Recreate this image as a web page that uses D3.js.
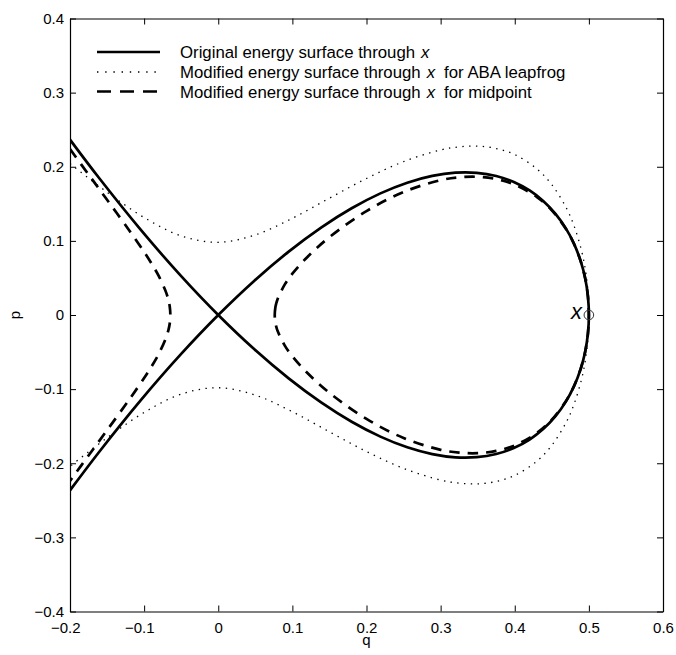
<!DOCTYPE html>
<html>
<head>
<meta charset="utf-8">
<script src="https://cdn.jsdelivr.net/npm/d3@7"></script>
<style>
  html, body { margin: 0; padding: 0; background: #fff; }
  svg { display: block; font-family: "Liberation Sans", Arial, Helvetica, sans-serif; }
</style>
</head>
<body>
<svg id="chart" width="676" height="655"></svg>
<script>
// ---------- data ----------
const xTicks = [-0.2, -0.1, 0, 0.1, 0.2, 0.3, 0.4, 0.5, 0.6];
const xTickLabels = ["\u22120.2", "\u22120.1", "0", "0.1", "0.2", "0.3", "0.4", "0.5", "0.6"];
const yTicks = [-0.4, -0.3, -0.2, -0.1, 0, 0.1, 0.2, 0.3, 0.4];
const yTickLabels = ["\u22120.4", "\u22120.3", "\u22120.2", "\u22120.1", "0", "0.1", "0.2", "0.3", "0.4"];

// Original energy surface through x (solid), traced from lower-left, round the loop, to upper-left
const originalQ = [-0.2, -0.16125, -0.105, -0.05125, 0, 0.04875, 0.095, 0.13875, 0.18, 0.21875, 0.255, 0.28875, 0.32, 0.34875, 0.375, 0.39875, 0.42, 0.43875, 0.455, 0.46875, 0.48, 0.48875, 0.495, 0.49875, 0.5,
                   0.49875, 0.495, 0.48875, 0.48, 0.46875, 0.455, 0.43875, 0.42, 0.39875, 0.375, 0.34875, 0.32, 0.28875, 0.255, 0.21875, 0.18, 0.13875, 0.095, 0.04875, 0, -0.05125, -0.105, -0.16125, -0.2];
const originalP = [-0.2366, -0.18544, -0.1155, -0.05381, 0, 0.04631, 0.0855, 0.11794, 0.144, 0.16406, 0.1785, 0.18769, 0.192, 0.19181, 0.1875, 0.17944, 0.168, 0.15356, 0.1365, 0.11719, 0.096, 0.07331, 0.0495, 0.02494, 0,
                   -0.02494, -0.0495, -0.07331, -0.096, -0.11719, -0.1365, -0.15356, -0.168, -0.17944, -0.1875, -0.19181, -0.192, -0.18769, -0.1785, -0.16406, -0.144, -0.11794, -0.0855, -0.04631, 0, 0.05381, 0.1155, 0.18544, 0.2366];

// Modified energy surface for ABA leapfrog (dotted): upper branch, then lower branch
const abaQ = [-0.2, -0.15, -0.1, -0.05, 0, 0.05, 0.1, 0.15, 0.2, 0.25, 0.3, 0.325, 0.35, 0.375, 0.4, 0.43, 0.45, 0.47, 0.48, 0.49, 0.495, 0.4985, 0.5,
              0.4985, 0.495, 0.49, 0.48, 0.47, 0.45, 0.43, 0.4, 0.375, 0.35, 0.325, 0.3, 0.25, 0.2, 0.15, 0.1, 0.05, 0, -0.05, -0.1, -0.15, -0.2];
const abaP = [0.2042, 0.1657, 0.1315, 0.1067, 0.0981, 0.1081, 0.1305, 0.1576, 0.1842, 0.2069, 0.2227, 0.2268, 0.2278, 0.2246, 0.2164, 0.1970, 0.1758, 0.1436, 0.1203, 0.0872, 0.0625, 0.0345, 0,
              -0.0345, -0.0625, -0.0872, -0.1203, -0.1436, -0.1758, -0.1970, -0.2164, -0.2246, -0.2278, -0.2268, -0.2227, -0.2069, -0.1842, -0.1576, -0.1305, -0.1081, -0.0981, -0.1067, -0.1315, -0.1657, -0.2042];

// Modified energy surface for midpoint (dashed): left branch
const midLeftQ = [-0.2, -0.175, -0.15, -0.12, -0.1, -0.09, -0.08, -0.07, -0.067, -0.0655, -0.0646, -0.0655, -0.067, -0.07, -0.08, -0.09, -0.1, -0.12, -0.15, -0.175, -0.2];
const midLeftP = [0.2239, 0.1896, 0.1554, 0.1140, 0.0851, 0.0694, 0.0520, 0.0295, 0.0194, 0.0118, 0, -0.0118, -0.0194, -0.0295, -0.0520, -0.0694, -0.0851, -0.1140, -0.1554, -0.1896, -0.2239];
// ... and right closed loop
const midLoopQ = [0.0762, 0.077, 0.078, 0.08, 0.09, 0.1, 0.12, 0.15, 0.2, 0.25, 0.3, 0.325, 0.35, 0.375, 0.4, 0.43, 0.45, 0.47, 0.48, 0.49, 0.495, 0.4985, 0.5,
                  0.4985, 0.495, 0.49, 0.48, 0.47, 0.45, 0.43, 0.4, 0.375, 0.35, 0.325, 0.3, 0.25, 0.2, 0.15, 0.12, 0.1, 0.09, 0.08, 0.078, 0.077];
const midLoopP = [0, 0.0098, 0.0147, 0.0214, 0.0416, 0.0557, 0.0780, 0.1050, 0.1402, 0.1659, 0.1819, 0.1857, 0.1864, 0.1834, 0.1759, 0.1591, 0.1412, 0.1146, 0.0957, 0.0692, 0.0495, 0.0273, 0,
                  -0.0273, -0.0495, -0.0692, -0.0957, -0.1146, -0.1412, -0.1591, -0.1759, -0.1834, -0.1864, -0.1857, -0.1819, -0.1659, -0.1402, -0.1050, -0.0780, -0.0557, -0.0416, -0.0214, -0.0147, -0.0098];

const pointX = [0.5];
const pointP = [0];

const legendLabels = [
  ["Original energy surface through", "x", ""],
  ["Modified energy surface through", "x", "for ABA leapfrog"],
  ["Modified energy surface through", "x", "for midpoint"]
];

// ---------- chart ----------
const svg = d3.select("#chart");
const plotLeft = 70, plotRight = 663, plotTop = 18.5, plotBottom = 611.5;
const x = d3.scaleLinear().domain([-0.2, 0.6]).range([plotLeft, plotRight]);
const y = d3.scaleLinear().domain([-0.4, 0.4]).range([plotBottom, plotTop]);

svg.append("defs").append("clipPath").attr("id", "clip")
  .append("rect").attr("x", plotLeft).attr("y", plotTop).attr("width", plotRight - plotLeft).attr("height", plotBottom - plotTop);

const zip = (qs, ps) => qs.map((q, i) => [q, ps[i]]);
const line = d3.line().x(d => x(d[0])).y(d => y(d[1])).curve(d3.curveCatmullRom.alpha(0.5));
const lineClosed = d3.line().x(d => x(d[0])).y(d => y(d[1])).curve(d3.curveCatmullRomClosed.alpha(0.5));

const plot = svg.append("g").attr("clip-path", "url(#clip)");

const solidStyle = { w: 2.7, dash: null };
const dotStyle = { w: 1.3, dash: "1.4,5.4" };
const dashStyle = { w: 2.7, dash: "10.5,8" };

function drawPath(d, st) {
  const p = plot.append("path").attr("d", d).attr("fill", "none").attr("stroke", "#000")
    .attr("stroke-width", st.w).attr("stroke-linejoin", "round");
  if (st.dash) p.attr("stroke-dasharray", st.dash);
}

drawPath(line(zip(abaQ, abaP)), dotStyle);
drawPath(line(zip(midLeftQ, midLeftP)), dashStyle);
drawPath(lineClosed(zip(midLoopQ, midLoopP)), dashStyle);
drawPath(line(zip(originalQ, originalP)), solidStyle);

// point x
svg.append("circle").attr("cx", x(pointX[0])).attr("cy", y(pointP[0])).attr("r", 4.8)
  .attr("fill", "none").attr("stroke", "#333").attr("stroke-width", 1);
svg.append("text").attr("x", x(pointX[0]) - 7).attr("y", y(pointP[0]) + 4)
  .attr("text-anchor", "end").attr("font-size", 22).attr("font-style", "italic").text("x");

// axes (ticks inward, box on all sides)
const gx = svg.append("g").attr("transform", `translate(0,${plotBottom})`)
  .call(d3.axisBottom(x).tickValues(xTicks).tickFormat((d, i) => xTickLabels[i]).tickSizeInner(-6).tickSizeOuter(0).tickPadding(11));
const gy = svg.append("g").attr("transform", `translate(${plotLeft},0)`)
  .call(d3.axisLeft(y).tickValues(yTicks).tickFormat((d, i) => yTickLabels[i]).tickSizeInner(-6).tickSizeOuter(0).tickPadding(6));
const gt = svg.append("g").attr("transform", `translate(0,${plotTop})`)
  .call(d3.axisTop(x).tickValues(xTicks).tickFormat("").tickSizeInner(-6).tickSizeOuter(0));
const gr = svg.append("g").attr("transform", `translate(${plotRight},0)`)
  .call(d3.axisRight(y).tickValues(yTicks).tickFormat("").tickSizeInner(-6).tickSizeOuter(0));

[gx, gy, gt, gr].forEach(g => {
  g.selectAll("path.domain").attr("stroke", "#000").attr("stroke-width", 1.2);
  g.selectAll(".tick line").attr("stroke", "#000").attr("stroke-width", 1);
  g.selectAll("text").attr("font-size", 15).attr("fill", "#000")
    .attr("font-family", "'Liberation Sans', Arial, Helvetica, sans-serif");
});
gx.selectAll(".tick text").attr("dx", (d) => d < 0 ? "-0.32em" : 0);

// axis labels
svg.append("text").attr("x", (plotLeft + plotRight) / 2).attr("y", 645).attr("text-anchor", "middle")
  .attr("font-size", 15).text("q");
svg.append("text").attr("transform", `translate(20,315) rotate(-90)`).attr("text-anchor", "middle")
  .attr("font-size", 15).text("p");

// legend
const legendStyles = [solidStyle, dotStyle, dashStyle];
const legendY = [52, 72, 91.5];
legendLabels.forEach((lab, i) => {
  const st = legendStyles[i];
  const l = svg.append("line").attr("x1", 97).attr("x2", 160).attr("y1", legendY[i]).attr("y2", legendY[i])
    .attr("stroke", "#000").attr("stroke-width", st.w);
  if (st.dash) l.attr("stroke-dasharray", i === 1 ? "1.4,6.8" : "14,9");
  const t = svg.append("text").attr("x", 180).attr("y", legendY[i] + 6).attr("font-size", 16.8);
  t.append("tspan").text(lab[0]);
  t.append("tspan").attr("dx", 6).attr("font-style", "italic").text(lab[1]);
  if (lab[2]) t.append("tspan").attr("dx", 9).text(lab[2]);
});
</script>
</body>
</html>
